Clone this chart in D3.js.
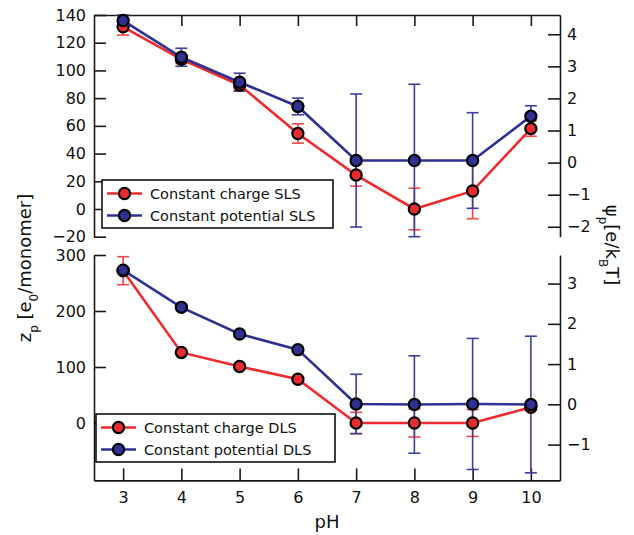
<!DOCTYPE html>
<html>
<head>
<meta charset="utf-8">
<script src="https://cdn.jsdelivr.net/npm/d3@7"></script>
<style>
  html, body { margin: 0; padding: 0; background: #fff; }
  svg { display: block; font-family: "DejaVu Sans", sans-serif; }
</style>
</head>
<body>
<svg id="chart" width="634" height="535"></svg>
<script>
// pH values shared by both panels
const pH = [3, 4, 5, 6, 7, 8, 9, 10];

// Upper panel: SLS, effective charge per monomer and its uncertainty
const slsChargeZ     = [131.5, 108, 89.5, 54.5, 24.5, 0, 13, 58];
const slsChargeErr   = [6, 3, 4, 7, 8, 15, 20, 5.5];
const slsPotentialZ  = [136, 109.5, 91.5, 74, 35, 35, 35, 67];
const slsPotentialErr = [4, 6.5, 6.5, 6, 48, 55, 34.5, 7.5];

// Lower panel: DLS
const dlsChargeZ     = [272, 126, 101, 78, 0, 0, 0, 28];
const dlsChargeErr   = [25, 0, 0, 0, 19, 25, 24, 5];
const dlsPotentialZ  = [273, 206.5, 159, 131, 34, 33, 34, 33];
const dlsPotentialErr = [0, 0, 0, 0, 53, 87, 117, 122];

// Tick values
const xTicks = [3, 4, 5, 6, 7, 8, 9, 10];
const topLeftTicks = [140, 120, 100, 80, 60, 40, 20, 0, -20];
const topRightTicks = [4, 3, 2, 1, 0, -1, -2];
const botLeftTicks = [300, 200, 100, 0];
const botRightTicks = [3, 2, 1, 0, -1];

const RED = "#ee2a2e", RED_ERR = "#f0474a";
const BLUE = "#2e3192", BLUE_ERR = "#3c3f9c";
const AXIS = "#1a1a1a";

const svg = d3.select("#chart");

const x = d3.scaleLinear().domain([2.5, 10.5]).range([94, 560]);

const yTop = d3.scaleLinear().domain([-20, 140]).range([236.7, 15]);
const yTopR = d3.scaleLinear().domain([-2.31, 4.60]).range([236.7, 15]);
const yBot = d3.scaleLinear().domain([-102.5, 300]).range([480.4, 255]);
const yBotR = d3.scaleLinear().domain([-1.89, 3.71]).range([480.4, 255]);

const intFmt = d3.format("d");

function styleAxis(g, withLabels) {
  g.select(".domain").attr("stroke", AXIS).attr("stroke-width", 1.6);
  g.selectAll(".tick line").attr("stroke", AXIS).attr("stroke-width", 1.6);
  g.selectAll(".tick text")
    .attr("fill", "#111")
    .style("font-size", "16px")
    .style("font-family", "'DejaVu Sans', sans-serif");
  if (!withLabels) g.selectAll(".tick text").remove();
}

// ----- upper panel axes -----
svg.append("g").attr("transform", "translate(94,0)")
  .call(d3.axisLeft(yTop).tickValues(topLeftTicks).tickFormat(intFmt)
    .tickSize(-12).tickPadding(8).tickSizeOuter(0))
  .call(g => styleAxis(g, true));
svg.append("g").attr("transform", "translate(560,0)")
  .call(d3.axisRight(yTopR).tickValues(topRightTicks).tickFormat(intFmt)
    .tickSize(-12).tickPadding(7).tickSizeOuter(0))
  .call(g => styleAxis(g, true));
svg.append("g").attr("transform", "translate(0,15)")
  .call(d3.axisTop(x).tickValues(xTicks).tickSize(-11).tickSizeOuter(0))
  .call(g => styleAxis(g, false));

// ----- lower panel axes -----
svg.append("g").attr("transform", "translate(94,0)")
  .call(d3.axisLeft(yBot).tickValues(botLeftTicks).tickFormat(intFmt)
    .tickSize(-12).tickPadding(8).tickSizeOuter(0))
  .call(g => styleAxis(g, true));
svg.append("g").attr("transform", "translate(560,0)")
  .call(d3.axisRight(yBotR).tickValues(botRightTicks).tickFormat(intFmt)
    .tickSize(-12).tickPadding(7).tickSizeOuter(0))
  .call(g => styleAxis(g, true));
svg.append("g").attr("transform", "translate(0,480.4)")
  .call(d3.axisBottom(x).tickValues(xTicks).tickFormat(intFmt)
    .tickSize(-12).tickPadding(6).tickSizeOuter(0))
  .call(g => styleAxis(g, true))
  .call(g => g.selectAll(".tick text").attr("dy", "1.05em"));

// ----- series drawing -----
function errorBars(yScale, vals, errs, color) {
  const g = svg.append("g").attr("stroke", color).attr("stroke-width", 1.6).attr("fill", "none");
  pH.forEach((p, i) => {
    if (!errs[i]) return;
    const cx = x(p), y1 = yScale(vals[i] + errs[i]), y2 = yScale(vals[i] - errs[i]);
    g.append("line").attr("x1", cx).attr("x2", cx).attr("y1", y1).attr("y2", y2);
    g.append("line").attr("x1", cx - 6).attr("x2", cx + 6).attr("y1", y1).attr("y2", y1);
    g.append("line").attr("x1", cx - 6).attr("x2", cx + 6).attr("y1", y2).attr("y2", y2);
  });
}

function series(yScale, vals, color) {
  const line = d3.line().x((d, i) => x(pH[i])).y(d => yScale(d));
  svg.append("path").datum(vals)
    .attr("d", line).attr("fill", "none")
    .attr("stroke", color).attr("stroke-width", 2.6);
  svg.append("g").selectAll("circle").data(vals).join("circle")
    .attr("cx", (d, i) => x(pH[i])).attr("cy", d => yScale(d))
    .attr("r", 5.6).attr("fill", color)
    .attr("stroke", "#000").attr("stroke-width", 2.2);
}

errorBars(yTop, slsChargeZ, slsChargeErr, RED_ERR);
errorBars(yTop, slsPotentialZ, slsPotentialErr, BLUE_ERR);
series(yTop, slsChargeZ, RED);
series(yTop, slsPotentialZ, BLUE);

errorBars(yBot, dlsChargeZ, dlsChargeErr, RED_ERR);
errorBars(yBot, dlsPotentialZ, dlsPotentialErr, BLUE_ERR);
series(yBot, dlsChargeZ, RED);
series(yBot, dlsPotentialZ, BLUE);

// ----- legends -----
function legend(bx, by, bw, bh, entries) {
  const g = svg.append("g");
  g.append("rect").attr("x", bx).attr("y", by).attr("width", bw).attr("height", bh)
    .attr("fill", "#fff").attr("stroke", "#000").attr("stroke-width", 1.5);
  entries.forEach((e, i) => {
    const yy = by + 13.5 + i * 22;
    g.append("line").attr("x1", bx + 5).attr("x2", bx + 40).attr("y1", yy).attr("y2", yy)
      .attr("stroke", e.color).attr("stroke-width", 2.6);
    g.append("circle").attr("cx", bx + 22.5).attr("cy", yy).attr("r", 5.6)
      .attr("fill", e.color).attr("stroke", "#000").attr("stroke-width", 2.2);
    g.append("text").attr("x", bx + 48).attr("y", yy).attr("dy", "0.36em")
      .style("font-size", "14.5px").attr("fill", "#111").text(e.label);
  });
}

legend(102, 180, 231, 48, [
  { label: "Constant charge SLS", color: RED },
  { label: "Constant potential SLS", color: BLUE }
]);
legend(96, 414, 239, 48, [
  { label: "Constant charge DLS", color: RED },
  { label: "Constant potential DLS", color: BLUE }
]);

// ----- axis titles -----
const yl = svg.append("text")
  .attr("transform", "translate(31,268) rotate(-90)")
  .attr("text-anchor", "middle").style("font-size", "18px").attr("fill", "#111");
yl.append("tspan").text("z");
yl.append("tspan").attr("baseline-shift", "sub").style("font-size", "12px").text("p");
yl.append("tspan").text(" [e");
yl.append("tspan").attr("baseline-shift", "sub").style("font-size", "12px").text("0");
yl.append("tspan").text("/monomer]");

const yr = svg.append("text")
  .attr("transform", "translate(606,245) rotate(90)")
  .attr("text-anchor", "middle").style("font-size", "18px").attr("fill", "#111");
yr.append("tspan").text("ψ");
yr.append("tspan").attr("baseline-shift", "sub").style("font-size", "12px").text("p");
yr.append("tspan").text("[e/k");
yr.append("tspan").attr("baseline-shift", "sub").style("font-size", "12px").text("B");
yr.append("tspan").text("T]");

svg.append("text").attr("x", 327).attr("y", 528)
  .attr("text-anchor", "middle").style("font-size", "18px").attr("fill", "#111").text("pH");
</script>
</body>
</html>
